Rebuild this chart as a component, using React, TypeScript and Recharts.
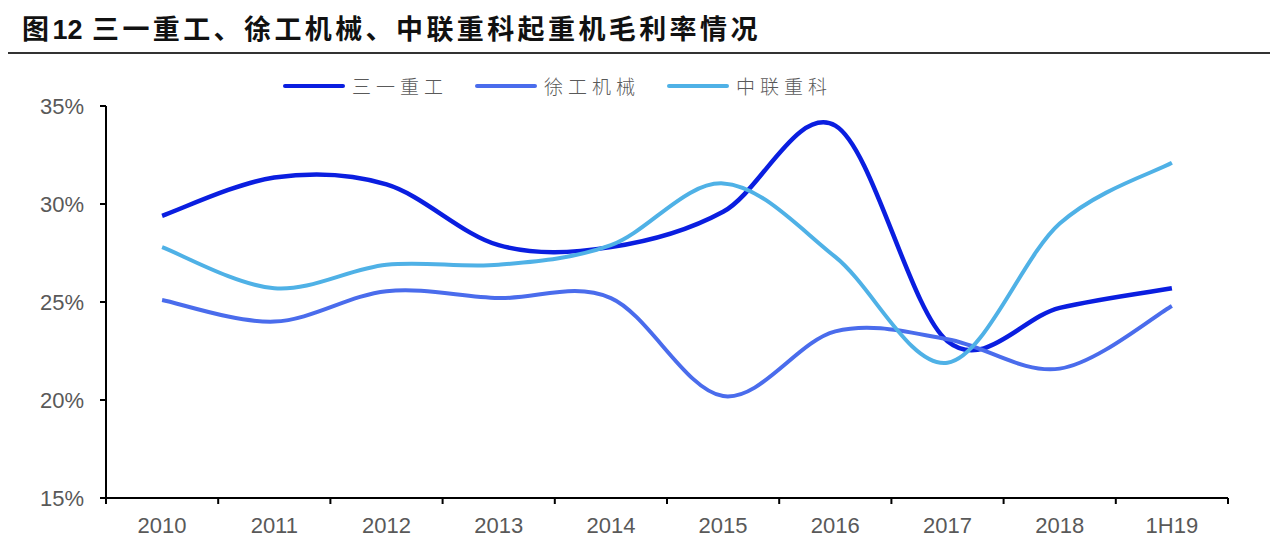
import React from 'react'
import { LineChart, Line, XAxis, YAxis } from 'recharts'

const categories = ['2010', '2011', '2012', '2013', '2014', '2015', '2016', '2017', '2018', '1H19']
const sany = [29.4, 31.35, 31.0, 27.9, 27.8, 29.6, 34.0, 23.0, 24.7, 25.7]
const xcmg = [25.1, 24.0, 25.55, 25.2, 25.2, 20.2, 23.5, 23.1, 21.6, 24.8]
const zoomlion = [27.8, 25.7, 26.9, 26.9, 27.9, 31.05, 27.3, 21.9, 29.0, 32.1]
const yTicks = [15, 20, 25, 30, 35]

const SERIES = [
  { key: 'sany', name: '三一重工', color: '#0a1ee0', values: sany, width: 4.5 },
  { key: 'xcmg', name: '徐工机械', color: '#4a6cec', values: xcmg, width: 4 },
  { key: 'zoomlion', name: '中联重科', color: '#4fb1e6', values: zoomlion, width: 4 },
]

const data = categories.map((c, i) => {
  const row: Record<string, number | string> = { i, label: c }
  SERIES.forEach((s) => { row[s.key] = s.values[i] })
  return row
})

// ticks at the centres (labels) and at the band edges (tick marks), like Excel
const xTicks: number[] = []
for (let k = 0; k <= categories.length; k++) {
  xTicks.push(k - 0.5)
  if (k < categories.length) xTicks.push(k)
}

// Excel-style smoothed line (Catmull-Rom as cubic bezier)
const excelSmooth = (context: any) => {
  let pts: number[][] = []
  return {
    areaStart() {},
    areaEnd() {},
    lineStart() { pts = [] },
    point(x: number, y: number) { pts.push([+x, +y]) },
    lineEnd() {
      const n = pts.length
      if (!n) return
      context.moveTo(pts[0][0], pts[0][1])
      for (let i = 0; i < n - 1; i++) {
        const p0 = pts[Math.max(i - 1, 0)]
        const p1 = pts[i]
        const p2 = pts[i + 1]
        const p3 = pts[Math.min(i + 2, n - 1)]
        context.bezierCurveTo(
          p1[0] + (p2[0] - p0[0]) / 6, p1[1] + (p2[1] - p0[1]) / 6,
          p2[0] - (p3[0] - p1[0]) / 6, p2[1] - (p3[1] - p1[1]) / 6,
          p2[0], p2[1],
        )
      }
    },
  }
}

const AXIS_FONT = '"Liberation Sans", Arial, sans-serif'
const CJK_FONT = '"Noto Sans CJK SC", sans-serif'

const XTick = (props: any) => {
  const { x, y, payload } = props
  const v = payload.value as number
  if (Number.isInteger(v)) {
    return (
      <text x={x} y={y + 35} textAnchor="middle" fill="#595959" fontSize={22} fontFamily={AXIS_FONT}>
        {categories[v]}
      </text>
    )
  }
  return <line x1={x} x2={x} y1={y} y2={y + 6} stroke="#000" strokeWidth={2} />
}

export default function App() {
  return (
    <div style={{ position: 'absolute', left: 0, top: 0, width: 1270, height: 556, background: '#fff' }}>
      <div
        style={{
          position: 'absolute', left: 22, top: 8, fontSize: 27, fontWeight: 700,
          letterSpacing: 3.4, color: '#111', fontFamily: CJK_FONT, whiteSpace: 'nowrap',
        }}
      >
        图<span style={{ fontFamily: AXIS_FONT, letterSpacing: 0 }}>12</span> 三一重工、徐工机械、中联重科起重机毛利率情况
      </div>
      <div style={{ position: 'absolute', left: 8, right: 0, top: 52, height: 2, background: '#333' }} />

      <div style={{ position: 'absolute', left: 283, top: 72, display: 'flex' }}>
        {SERIES.map((s) => (
          <div key={s.key} style={{ display: 'flex', alignItems: 'center', width: 192 }}>
            <div style={{ width: 62, height: 4, borderRadius: 2, background: s.color, marginRight: 7 }} />
            <span style={{ fontFamily: CJK_FONT, fontSize: 19, letterSpacing: 5, color: '#595959', fontWeight: 300 }}>
              {s.name}
            </span>
          </div>
        ))}
      </div>

      <div style={{ position: 'absolute', left: 0, top: 0 }}>
        <LineChart width={1270} height={556} data={data} margin={{ top: 106, right: 42, bottom: 0, left: 0 }}>
          <XAxis
            dataKey="i"
            type="number"
            domain={[-0.5, categories.length - 0.5]}
            ticks={xTicks}
            interval={0}
            height={58}
            tickSize={0}
            tickMargin={0}
            tickLine={false}
            tick={<XTick />}
            axisLine={{ stroke: '#000', strokeWidth: 2 }}
          />
          <YAxis
            domain={[15, 35]}
            ticks={yTicks}
            width={106}
            tickSize={6}
            tickMargin={16}
            tickFormatter={(v: number) => `${v}%`}
            tick={{ fill: '#595959', fontSize: 22, fontFamily: AXIS_FONT }}
            tickLine={{ stroke: '#000', strokeWidth: 2 }}
            axisLine={{ stroke: '#000', strokeWidth: 2 }}
          />
          {SERIES.map((s) => (
            <Line
              key={s.key}
              dataKey={s.key}
              name={s.name}
              type={excelSmooth as any}
              stroke={s.color}
              strokeWidth={s.width}
              dot={false}
              activeDot={false}
              isAnimationActive={false}
            />
          ))}
        </LineChart>
      </div>
    </div>
  )
}
